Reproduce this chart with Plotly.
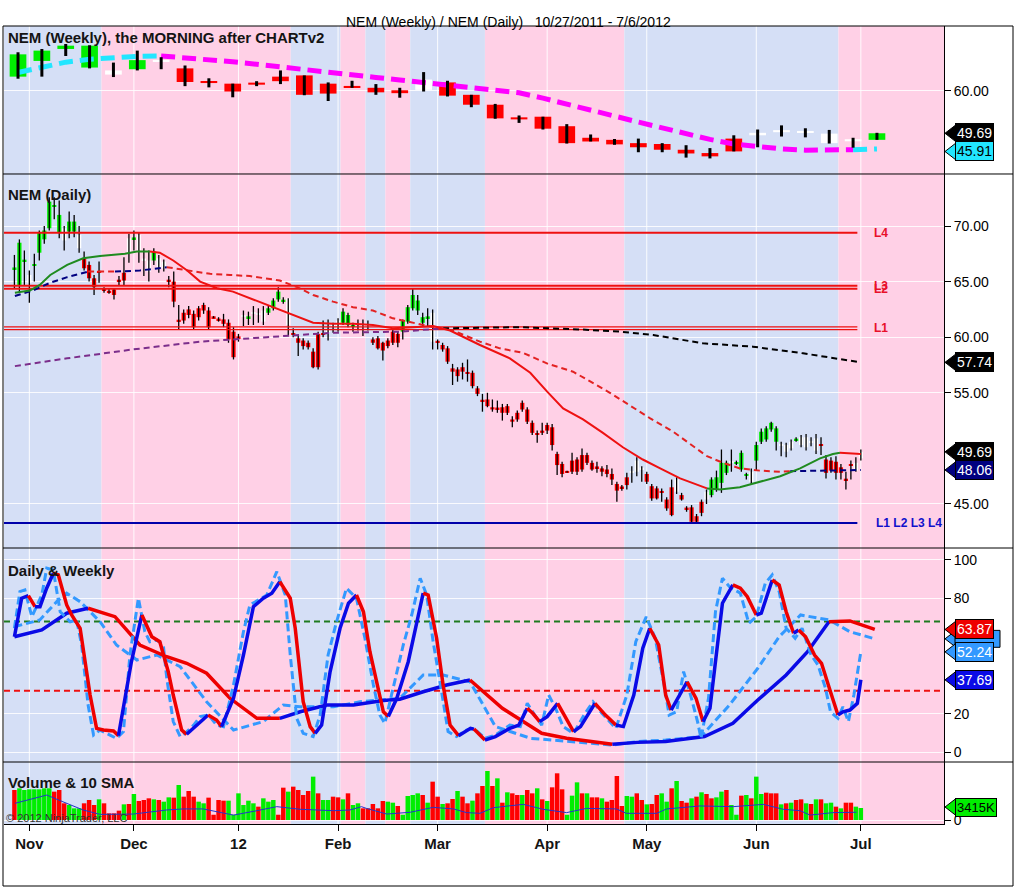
import plotly.graph_objects as go
import pandas as pd

FONT = 'Liberation Sans, Arial, sans-serif'

# ---- trading calendar (daily bars) ---------------------------------------
holidays = ['2011-11-24', '2011-12-26', '2012-01-02', '2012-01-16',
            '2012-02-20', '2012-04-06', '2012-05-28']
days = [d for d in pd.bdate_range('2011-10-27', '2012-07-02').strftime('%Y-%m-%d')
        if d not in holidays]
bar_of = {d: i for i, d in enumerate(days)}
bars = list(range(len(days)))

month_names = {'11': 'Nov', '12': 'Dec', '01': '12', '02': 'Feb', '03': 'Mar',
               '04': 'Apr', '05': 'May', '06': 'Jun', '07': 'Jul'}

# ---- daily OHLC -----------------------------------------------------------
d_open = [66.2, 64.7, 66.9,
          65.6, 66.5, 67.6, 68.8, 69.8, 71.8, 69.4, 69.8, 69.5, 69.5, 69.2, 67.1, 66.5, 65.3, 65.9, 64.3, 64.1, 64.3, 65.1, 65.8, 68.9,
          68.9, 69.2, 67.0, 66.9, 66.9, 67.1, 66.8, 65.1, 65.0, 61.5, 62.2, 62.5, 62.1, 62.6, 62.9, 62.4, 61.8, 61.6, 61.6, 61.3, 60.5,
          60.0, 61.9, 61.8, 62.2, 62.1, 62.4, 62.2, 62.6, 63.4, 63.3, 63.5, 60.3, 59.9, 59.7, 59.5, 58.7, 60.3, 60.3, 60.6, 61.0,
          61.5, 61.3, 61.1, 61.0, 61.2, 61.0, 61.1, 59.8, 59.9, 59.5, 59.7, 60.5, 60.3, 60.5, 61.4, 62.6, 62.4, 61.3, 61.8, 62.2,
          59.6, 59.3, 59.0, 57.2, 57.1, 57.3, 56.8, 56.8, 55.4, 54.3, 54.4, 53.7, 53.6, 53.7, 53.8, 52.6, 53.2, 54.1, 53.5, 52.3, 51.3, 51.6,
          52.1, 51.9, 49.5, 48.6, 47.9, 48.9, 49.0, 49.4, 49.4, 48.7, 48.3, 48.2, 48.1, 47.7, 46.8, 46.5, 47.4, 47.9, 48.9, 48.2,
          47.7, 46.6, 46.4, 46.1, 45.4, 46.5, 47.2, 45.8, 44.6, 44.7, 43.9, 45.2, 46.1, 45.8, 46.3, 46.9, 47.8, 48.8, 48.7, 48.1, 47.6, 47.9,
          48.9, 50.6, 50.8, 51.7, 50.6, 50.3, 50.3, 50.6, 50.8, 51.0, 51.0, 50.6, 50.9, 50.3, 49.0, 48.9, 48.8, 48.3, 47.2, 48.5, 48.7,
          49.1]
d_high = [67.4, 68.8, 67.8,
          66.0, 67.5, 69.6, 70.0, 72.6, 72.6, 72.3, 70.0, 71.3, 71.0, 70.0, 67.7, 66.8, 65.6, 66.8, 64.5, 64.4, 64.4, 65.5, 67.2, 69.3,
          69.6, 69.4, 68.0, 67.8, 68.0, 67.4, 67.0, 65.5, 65.9, 62.9, 62.5, 62.8, 62.4, 62.8, 63.1, 62.7, 61.9, 61.8, 62.1, 61.6, 60.9,
          60.3, 62.4, 62.3, 62.8, 62.6, 62.8, 62.9, 63.5, 64.5, 63.6, 63.5, 60.8, 60.1, 59.9, 59.7, 59.0, 60.5, 61.5, 61.6, 61.3,
          61.7, 62.6, 62.2, 61.3, 61.6, 61.6, 61.5, 60.0, 60.1, 59.6, 59.9, 60.7, 60.5, 61.6, 62.9, 64.4, 63.8, 62.2, 62.6, 62.5,
          59.8, 59.5, 59.2, 57.6, 57.3, 57.7, 58.0, 57.0, 55.6, 54.9, 55.0, 54.4, 54.3, 54.0, 54.0, 52.9, 53.4, 54.3, 53.7, 52.5, 51.6, 52.3,
          52.3, 52.2, 49.7, 48.8, 48.0, 49.6, 49.2, 50.0, 49.6, 48.9, 48.8, 48.4, 48.5, 48.2, 47.0, 46.7, 47.8, 48.4, 49.2, 48.4,
          47.9, 46.8, 46.6, 46.4, 45.6, 47.2, 47.4, 46.0, 44.8, 44.9, 44.1, 45.4, 46.3, 47.4, 48.0, 49.9, 48.9, 49.9, 48.9, 49.8, 47.8, 48.2,
          50.6, 51.8, 52.0, 52.4, 52.0, 50.6, 50.5, 50.8, 51.0, 51.2, 51.3, 51.0, 51.3, 51.0, 49.4, 49.2, 49.3, 48.6, 47.9, 48.9, 49.2,
          49.9]
d_low = [64.4, 64.0, 64.7,
         63.1, 65.0, 66.9, 68.4, 69.6, 70.6, 68.9, 67.8, 68.9, 69.0, 67.6, 66.0, 65.0, 63.8, 64.9, 64.0, 63.9, 63.4, 64.7, 64.6, 66.7,
         67.8, 66.7, 65.5, 65.0, 66.5, 65.8, 65.9, 64.5, 62.7, 60.7, 61.2, 61.7, 60.7, 61.5, 62.1, 60.7, 61.7, 61.4, 60.9, 59.5, 58.0,
         59.6, 61.0, 61.1, 61.1, 61.3, 61.1, 62.0, 62.4, 63.2, 63.0, 60.2, 60.0, 58.3, 58.9, 58.9, 57.2, 57.1, 60.0, 59.7, 60.4,
         60.5, 61.1, 60.9, 60.5, 60.6, 60.1, 60.6, 59.3, 58.9, 57.9, 59.0, 59.3, 59.1, 59.8, 61.2, 62.4, 62.0, 61.0, 61.0, 58.9,
         58.9, 58.7, 57.6, 55.7, 56.0, 56.2, 56.0, 55.4, 54.7, 53.3, 53.7, 53.3, 53.2, 52.5, 53.0, 51.9, 52.4, 53.3, 52.2, 51.2, 50.5, 51.2,
         51.3, 49.8, 47.6, 47.4, 47.8, 47.7, 47.6, 47.9, 48.5, 48.0, 47.8, 47.5, 47.4, 46.7, 45.2, 46.2, 46.3, 46.9, 47.5, 47.0,
         46.8, 45.3, 45.4, 45.2, 44.4, 43.9, 45.9, 45.3, 44.3, 43.3, 43.3, 43.9, 45.0, 45.6, 46.1, 46.0, 47.6, 47.9, 48.5, 47.9, 47.2, 46.8,
         48.0, 50.4, 50.6, 51.5, 49.8, 49.3, 49.2, 49.8, 50.6, 50.1, 49.8, 50.2, 49.5, 49.4, 47.3, 47.8, 47.2, 47.2, 46.3, 47.2, 47.9,
         48.9]
d_close = [66.2, 68.5, 66.9,
           64.9, 66.5, 69.4, 69.6, 72.2, 71.8, 71.0, 68.7, 70.4, 70.4, 68.0, 66.2, 65.3, 64.5, 65.9, 64.3, 64.1, 63.8, 65.1, 65.1, 67.6,
           68.9, 67.8, 67.0, 65.9, 67.7, 66.3, 66.2, 65.1, 63.2, 61.5, 61.5, 62.0, 60.9, 61.8, 62.4, 60.9, 61.8, 61.6, 61.2, 59.8, 58.2,
           60.0, 61.9, 61.8, 62.2, 62.1, 61.4, 62.6, 63.3, 64.1, 63.3, 61.1, 60.3, 59.5, 59.2, 59.1, 57.3, 57.3, 60.3, 60.6, 61.0,
           60.8, 62.3, 62.0, 61.0, 61.2, 61.0, 61.1, 59.5, 59.0, 58.8, 59.2, 59.5, 59.5, 61.5, 62.7, 63.8, 63.3, 61.8, 61.8, 59.6,
           59.6, 58.9, 57.8, 56.9, 56.5, 56.9, 56.8, 55.6, 54.9, 54.3, 53.8, 53.5, 53.6, 53.2, 53.2, 52.4, 52.6, 53.5, 52.4, 51.4, 51.3, 51.4,
           51.6, 50.3, 48.5, 47.7, 47.9, 47.9, 47.9, 48.1, 48.7, 48.1, 48.3, 47.9, 47.7, 47.2, 46.2, 46.5, 46.7, 47.9, 47.9, 48.2,
           47.0, 45.5, 45.5, 46.1, 44.6, 44.0, 46.1, 45.4, 44.6, 43.4, 43.4, 44.2, 45.4, 47.2, 47.4, 48.7, 48.7, 48.8, 48.7, 49.6, 47.6, 47.0,
           50.3, 51.5, 51.8, 52.3, 51.8, 50.3, 49.7, 50.0, 50.8, 50.3, 50.1, 50.6, 49.8, 50.3, 47.8, 48.0, 47.8, 47.8, 47.2, 48.5, 48.0,
           49.69]
d_col = ('ggg' + 'wggggggwggwrrrrrrrrrw' + 'gwwwgww' + 'r' * 14 + 'rwgwwwggggwrrrrrrrww'
         + 'wgggwwwrrrrrrggggggw' + 'r' * 22 + 'r' * 17 + 'www' + 'rrrrrrwrrrrrwggggwgggw'
         + 'gggggwwwgwwwwrrrrrrrw' + 'w')

# ---- weekly OHLC -----------------------------------------------------------
weeks = ['2011-10-28', '2011-11-04', '2011-11-11', '2011-11-18', '2011-11-25', '2011-12-02',
         '2011-12-09', '2011-12-16', '2011-12-23', '2011-12-30', '2012-01-06', '2012-01-13',
         '2012-01-20', '2012-01-27', '2012-02-03', '2012-02-10', '2012-02-17', '2012-02-24',
         '2012-03-02', '2012-03-09', '2012-03-16', '2012-03-23', '2012-03-30', '2012-04-05',
         '2012-04-13', '2012-04-20', '2012-04-27', '2012-05-04', '2012-05-11', '2012-05-18',
         '2012-05-25', '2012-06-01', '2012-06-08', '2012-06-15', '2012-06-22', '2012-06-29',
         '2012-07-06']
w_open = [63.4, 67.2, 70.1, 65.6, 64.9, 65.2, 67.2, 65.4, 62.1, 61.7, 61.7, 63.4, 63.7, 61.7, 60.9, 60.7,
          60.1, 62.7, 62.0, 59.0, 56.6, 53.3, 53.7, 51.4, 48.6, 48.1, 47.3, 47.1, 45.7, 44.9, 48.4, 49.8,
          50.2, 50.0, 49.6, 48.0, 48.1]
w_high = [69.3, 70.1, 71.3, 71.0, 66.8, 69.7, 68.1, 66.1, 63.0, 61.7, 62.3, 64.9, 63.7, 62.0, 62.4, 61.6,
          60.7, 64.5, 62.4, 59.0, 56.8, 54.0, 53.7, 51.9, 49.4, 48.3, 48.4, 47.3, 46.8, 46.1, 49.2, 50.6,
          51.6, 50.9, 50.5, 48.6, 49.8]
w_low = [62.9, 63.4, 68.4, 65.4, 63.3, 64.9, 65.2, 61.1, 60.8, 58.4, 61.1, 61.6, 58.9, 57.5, 60.7, 59.0,
         58.3, 59.8, 58.6, 56.0, 53.2, 52.2, 50.6, 47.2, 47.7, 46.9, 45.1, 45.1, 43.8, 43.6, 45.3, 46.3,
         48.9, 48.7, 47.2, 46.2, 48.1]
w_close = [68.8, 69.7, 70.9, 70.9, 63.9, 67.4, 67.2, 62.1, 62.1, 59.8, 61.7, 62.3, 59.0, 59.3, 60.9, 59.6,
           59.4, 60.2, 58.8, 56.6, 53.3, 53.3, 50.8, 47.3, 47.7, 47.0, 46.3, 45.7, 44.8, 44.1, 45.3, 49.2,
           50.2, 50.0, 47.3, 48.0, 49.69]
w_col = 'ggggwgw' + 'r' * 10 + 'w' + 'r' * 13 + 'wwwww' + 'g'
w_ma = [64.4, 65.7, 66.9, 67.6, 68.0, 68.3, 68.4, 68.0, 67.5, 67.0, 66.4, 65.7, 65.1, 64.4, 63.8, 63.2,
        62.6, 62.0, 61.5, 61.0, 60.4, 59.5, 58.2, 56.7, 55.1, 53.8, 52.4, 51.0, 49.5, 48.2, 47.1, 46.4,
        45.9, 45.6, 45.6, 45.7, 45.91]
w_ma_col = 'c' * 6 + 'm' * 29 + 'cc'

# ---- daily moving averages (sampled at bar positions) ----------------------
fast_pos = [0.1, 3.1, 5.1, 7.2, 10.6, 13.8, 17.2, 22.2, 24.6, 27.2, 29.2, 31.9, 34.7, 37.3, 40.7, 43.9,
            47.9, 51.9, 55.9, 60.0, 64.0, 68.0, 72.0, 76.0, 80.1, 84.1, 87.5, 93.5, 99.5, 103.6, 107.0,
            110.2, 114.2, 118.2, 122.2, 126.2, 129.7, 133.7, 139.1, 141.7, 145.7, 149.7, 153.8, 157.8,
            161.8, 164.4, 165.8, 170.0]
fast_val = [64.0, 64.2, 64.7, 65.6, 66.5, 67.1, 67.3, 67.5, 67.7, 67.7, 67.6, 66.9, 66.0, 65.0, 64.4, 64.1,
            63.4, 62.7, 62.0, 61.3, 61.2, 61.2, 61.1, 60.8, 60.9, 61.0, 60.6, 59.3, 58.1, 56.8, 55.1,
            53.6, 52.6, 51.4, 50.1, 49.0, 48.2, 47.3, 46.4, 46.3, 46.5, 47.0, 47.5, 48.2,
            49.1, 49.5, 49.6, 49.5]
fast_col = 'g' * 9 + 'r' * 29 + 'g' * 8 + 'rr'

slow_pos = [0.1, 3.7, 7.2, 10.6, 14.8, 20.2, 25.2, 30.6, 35.3, 39.3, 43.3, 47.3, 53.3, 56.8, 60.0, 64.0,
            68.0, 72.0, 76.0, 80.1, 84.1, 88.1, 93.5, 97.5, 102.1, 107.2, 112.2, 119.6, 127.7, 132.3,
            139.1, 142.3, 145.7, 149.7, 153.8, 155.8, 161.8, 170.0]
slow_val = [63.7, 64.2, 64.9, 65.4, 65.9, 65.9, 66.0, 66.3, 66.0, 65.7, 65.6, 65.5, 65.1, 64.5, 63.8, 63.2,
            62.7, 62.4, 61.7, 61.3, 60.9, 60.6, 59.6, 59.0, 58.6, 57.6, 56.9, 55.0, 52.7, 51.5,
            49.3, 48.7, 48.2, 48.0, 47.9, 47.95, 48.0, 48.06]
slow_col = 'nnnn' + 'r' + 'nn' + 'r' * 28 + 'nnn'

long_pos = [0.1, 10.6, 23.8, 37.3, 50.7, 64.0, 77.4, 86.1, 101.5, 113.6, 121.6, 128.3, 138.3, 148.3,
            158.4, 170.0]
long_val = [57.4, 58.1, 58.9, 59.6, 60.0, 60.4, 60.5, 60.8, 60.9, 60.7, 60.5, 60.2, 59.45, 59.15,
            58.55, 57.74]
long_col = 'p' * 7 + 'k' * 9

levels_thick = [69.4, 64.62, 64.35]
levels_thin = [60.93, 60.68]
level_blue = 43.3

# ---- oscillator ("Daily & Weekly") ------------------------------------------
osc_d_pos = [0, 1.46, 2.8, 4.14, 5.14, 6.48, 7.82, 8.82, 10.5, 11.5,
             13.2, 15.2, 16.5, 17.9, 19.9, 20.9, 23.5, 25.6, 27.6, 29.2,
             30.9, 31.9, 33.6, 34.6, 37.3, 38.9, 40.6, 41.6, 44.0, 46.0,
             48.0, 50.0, 51.7, 53.3, 55.4, 56.4, 58.0, 59.4, 60.4, 61.7,
             63.4, 65.4, 67.1, 68.7, 70.1, 71.4, 72.8, 74.1, 75.1, 76.8,
             79.1, 80.8, 82.1, 83.1, 84.8, 86.1, 87.5, 89.2, 91.6, 92.3,
             94.5, 96.6, 99.5, 101.3, 103.0, 104.1, 105.5, 107.0, 109.1, 110.9,
             112.3, 113.7, 116.6, 118.7, 120.8, 122.3, 124.4, 126.2, 127.6, 129.4,
             130.8, 131.9, 133.3, 135.1, 136.9, 138.3, 139.7, 140.8, 142.2, 144.3,
             145.8, 147.2, 149.0, 150.0, 152.2, 153.6, 155.0, 156.5, 157.5, 158.9,
             160.7, 162.1, 163.9, 165.4, 166.4, 167.8, 169.3, 170.0]
osc_d_val = [60.1, 80.1, 81.5, 75.7, 75.7, 85.3, 93.1, 92.2, 76.6, 71.4,
             64.5, 29.8, 12.5, 11.6, 11.1, 8.7, 47.1, 71.4, 60.1, 57.5,
             41.9, 29.8, 11.6, 9.4, 16.0, 19.4, 16.8, 13.4, 28.1, 50.6,
             75.7, 80.1, 82.7, 88.7, 80.1, 64.5, 26.3, 13.4, 9.9, 14.2,
             41.9, 64.5, 77.5, 81.8, 73.1, 52.3, 35.0, 21.1, 18.6, 28.1,
             47.1, 66.2, 82.7, 81.8, 59.3, 35.0, 14.2, 8.7, 12.5, 12.1,
             6.4, 8.2, 12.5, 14.2, 22.9, 20.3, 16.0, 18.6, 25.5, 17.7,
             10.8, 13.4, 25.5, 19.4, 14.2, 13.4, 29.8, 54.1, 64.5, 55.8,
             29.8, 22.0, 28.1, 36.7, 28.1, 16.0, 22.9, 47.1, 77.5, 87.0,
             85.3, 80.9, 71.4, 72.3, 89.6, 87.0, 73.1, 61.9, 63.6, 60.1,
             50.6, 46.3, 31.5, 19.4, 21.1, 22.0, 25.5, 37.69]
osc_d_col = ('bbrbbbrrrr' 'rrrrrbbrrr' 'rrrbbrrbbb' 'bbbrrrrrbb' 'bbbrrrrrbb'
             'bbrrrrrbbr' 'bbbbrrbbrr' 'bbrrbbbbrr' 'rbbrrbbbbr' 'rrbbrrrbrr' 'rrrbbbbb')
osc_dd_pos = [0, 1.1, 2.1, 3.5, 5.5, 6.5, 7.8, 9.2, 11.2, 12.5,
              13.5, 14.8, 15.9, 17.2, 19.2, 20.5, 21.9, 23.2, 24.9, 26.2,
              27.2, 28.6, 29.9, 30.6, 31.9, 33.3, 34.3, 36.0, 37.3, 39.0,
              40.6, 42.0, 44.0, 46.0, 47.3, 49.0, 50.7, 52.7, 54.4, 55.4,
              56.7, 58.0, 60.0, 61.4, 63.0, 64.7, 66.7, 68.7, 70.4, 72.1,
              73.4, 74.4, 76.1, 78.1, 79.8, 81.5, 82.8, 84.1, 85.8, 87.1,
              88.8, 90.8, 92.3, 94.5, 96.6, 99.5, 101.6, 103.0, 104.5, 105.9,
              107.3, 108.7, 110.2, 112.3, 114.4, 116.2, 118.0, 120.8, 123.0, 124.8,
              126.9, 128.7, 130.5, 131.5, 133.0, 134.4, 135.8, 137.2, 137.9, 139.4,
              140.8, 142.2, 143.6, 145.8, 147.5, 149.0, 150.8, 152.2, 153.6, 155.0,
              156.8, 158.2, 160.0, 161.4, 162.9, 163.9, 165.4, 166.4, 167.5, 168.6,
              170.0]
osc_dd_val = [64.5, 83.5, 84.4, 70.5, 81.8, 95.7, 94.8, 73.1, 67.9, 68.8,
              55.8, 24.6, 9.0, 11.6, 9.0, 7.3, 10.8, 50.6, 80.1, 62.7,
              57.5, 58.4, 55.8, 38.5, 16.0, 8.2, 9.9, 14.2, 18.6, 19.4,
              14.2, 13.4, 35.0, 62.7, 76.6, 79.2, 81.8, 93.9, 81.8, 50.6,
              17.7, 9.9, 8.2, 19.4, 50.6, 67.9, 85.3, 80.1, 59.3, 35.0,
              19.4, 15.1, 33.3, 55.8, 71.4, 90.5, 81.8, 57.5, 31.5, 10.8,
              8.2, 11.6, 12.5, 7.3, 9.0, 14.2, 13.4, 25.5, 19.4, 14.2,
              29.8, 22.9, 13.4, 9.9, 19.4, 26.3, 20.3, 12.5, 29.8, 57.5,
              70.5, 59.3, 35.0, 19.4, 21.1, 42.0, 29.8, 16.0, 7.3, 28.1,
              73.1, 90.5, 86.1, 82.7, 67.1, 70.5, 87.9, 92.2, 83.5, 64.5,
              59.3, 64.5, 50.6, 45.4, 33.3, 21.1, 17.7, 23.7, 16.0, 29.8,
              52.24]
osc_w_pos = [0, 5.5, 10.5, 14.8, 20.2, 25.2, 30.6, 34.6, 38.6, 43.3, 48.7, 53.3, 57.4, 62.7, 68.1, 74.1,
             77.4, 82.1, 86.8, 91.5, 98.0, 105.9, 110.9, 120.1, 125.1, 130.8, 138.6, 144.3, 149.3, 155.0,
             159.3, 163.6, 167.8, 172.8]
osc_w_val = [60.1, 63.6, 72.3, 74.9, 70.5, 55.8, 49.7, 46.3, 41.1, 28.1, 17.7, 17.7, 21.1, 24.6, 24.6, 27.0,
             27.6, 31.5, 35.0, 37.6, 22.9, 9.9, 7.3, 4.2, 5.2, 5.6, 8.2, 15.1, 27.2, 40.2,
             52.3, 67.9, 68.3, 63.87]
osc_w_col = 'bbb' + 'r' * 8 + 'b' * 8 + 'r' * 4 + 'b' * 8 + 'rrr'
osc_wd_pos = [0, 5.1, 8.5, 10.5, 13.2, 17.2, 20.5, 24.6, 28.6, 33.3, 38.6, 44.0, 50.0, 54.0, 57.4, 64.1,
              69.4, 77.4, 82.1, 86.1, 91.5, 96.6, 103.7, 110.9, 120.1, 125.1, 130.8, 137.9, 143.6, 149.3,
              153.6, 157.9, 163.6, 167.8, 172.8]
osc_wd_val = [65.3, 68.8, 78.3, 82.7, 78.3, 67.9, 55.8, 48.0, 50.6, 44.5, 26.3, 11.6, 16.0, 24.6, 23.7, 23.7,
              26.3, 28.1, 40.2, 40.2, 36.7, 13.4, 7.3, 5.6, 3.8, 5.6, 6.4, 8.2, 24.6, 43.7,
              60.1, 71.4, 68.8, 62.7, 59.0]
osc_upper, osc_lower = 68, 32

# ---- volume (thousands) ----------------------------------------------------
vol_k = [8540, 9020, 8540, 8730, 8730, 8730, 9020, 9020, 8070, 8540,
         4750, 4270, 3320, 3320, 4750, 5690, 4270, 5880, 4750, 1900,
         1900, 2660, 4460, 4560, 7400, 5410, 5690, 6170, 5880, 5690,
         5220, 6450, 6360, 9960, 6640, 8260, 6640, 5220, 4750, 6360,
         1500, 5690, 5500, 5500, 1500, 7590, 4270, 5500, 4750, 3800, 6170, 5220, 5690,
         1500, 9200, 8070, 9490, 8540, 7120, 8260, 12340, 7590, 5690,
         5690, 6640, 6450, 5880, 7590, 4270, 4750, 3320, 3320, 4560,
         3320, 5410, 5220, 4930, 3990, 1500, 6830, 7120, 7590, 7120,
         4930, 10910, 6640, 4560, 4750, 5980, 8260, 6640, 4750, 5500,
         7590, 9680, 13950, 9680, 11860,
         4930,
         7880, 7590, 7120, 7120, 8540, 7590, 9020, 5880, 5410, 9300,
         13290, 8730, 1500, 6930, 10720, 7590, 7590, 6450, 6450, 6170,
         5220, 5690, 12530, 3990, 6830, 6640, 7590, 5690, 4460, 4560,
         7120, 7590, 5220, 9020, 11100, 5410, 4930, 6170, 6640, 7880,
         7400, 6170, 6450, 8070, 8540, 4270, 1500, 6930, 7120, 6170,
         12340, 7400, 7780, 7590, 7590, 4460, 4750, 4930, 5690, 5880,
         4750, 4560, 5880, 5880, 4750, 4930, 3800, 3320, 4930, 4930,
         3800, 3415]
vol_col = ('rgggggggrrrgggrrrgrrrrgrgrrrgrggrgrrrggr' + 'rrrggggggrggg'
           + 'rrgrrrrgrg' + 'grrgrggrrr' + 'rrggrggggr' + 'grrgrrgrrg' + 'rrgrg' + 'r'
           + 'grrgrrgrgr' + 'rrgggrgrrg' + 'rrrrggrrgr' + 'rggrgrrgrg' + 'rrggrggrgr'
           + 'ggrrrgrgrr' + 'grgrggrgrr' + 'gg')
vol_sma_pos = [0.1, 6.5, 9.2, 13.8, 17.2, 23.9, 30.6, 33.9, 37.9, 44.0, 48.7, 52.7, 57.4, 64.1, 67.4,
               69.7, 70.7, 74.8, 79.5, 84.1, 88.2, 90.8, 93.5, 96.2, 99.2, 102.2, 106.2, 110.9, 114.9,
               120.9, 122.9, 129.0, 131.0, 137.7, 144.4, 150.4, 154.4, 157.8, 159.8, 164.4, 169.1]
vol_sma_k = [4750, 7100, 5500, 2850, 1600, 1700, 2850, 3150, 3150, 1400, 2650, 3800, 3050, 2650, 2850,
             3800, 3300, 1700, 2200, 3600, 3150, 2100, 1900, 3500, 4000, 4450, 3050, 2100, 3300,
             3150, 1900, 1900, 3150, 4000, 3800, 4450, 3050, 2650, 1400, 2100, 2200]

# ---- background regime bands -----------------------------------------------
band_start = ['2011-10-27', '2011-11-22', '2012-01-19', '2012-02-02', '2012-02-09',
              '2012-02-15', '2012-02-23', '2012-03-15', '2012-04-25', '2012-06-26']
band_kind = ['blue', 'pink', 'blue', 'pink', 'blue', 'pink', 'blue', 'pink', 'blue', 'pink']

# ---- styling ---------------------------------------------------------------
CANDLE = {'g': '#00ee00', 'r': '#ff0000', 'w': '#ffffff'}
BAND = {'blue': '#d5dff6', 'pink': '#ffd0e6'}
X_RANGE = [-2.09, 186.7]
W_RANGE = [-0.587, 38.81]
D1, D2, D3 = 0.81454, 0.34586, 0.07769


def px_x(p):
    return (p - 4) / 940


def px_y(q):
    return (824 - q) / 798


fig = go.Figure()


def add_candles(x, o, h, l, c, col, xa, ya, body_w, wick_w, min_body):
    wx, wy = [], []
    for xi, hi, lo in zip(x, h, l):
        wx += [xi, xi, None]
        wy += [lo, hi, None]
    fig.add_trace(go.Scatter(x=wx, y=wy, mode='lines', xaxis=xa, yaxis=ya,
                             line=dict(color='black', width=wick_w), hoverinfo='skip'))
    size, base = [], []
    for a, b in zip(o, c):
        if abs(a - b) < min_body:
            size.append(min_body)
            base.append((a + b) / 2 - min_body / 2)
        else:
            size.append(abs(a - b))
            base.append(min(a, b))
    fig.add_trace(go.Bar(x=x, y=size, base=base, width=body_w, xaxis=xa, yaxis=ya,
                         marker=dict(color=[CANDLE[k] for k in col], line=dict(width=0))))


def add_segments(x, y, codes, palette, xa, ya, width, dash=None):
    start = 0
    for k in range(1, len(x)):
        if k == len(x) - 1 or codes[k] != codes[start]:
            fig.add_trace(go.Scatter(x=x[start:k + 1], y=y[start:k + 1], mode='lines',
                                     xaxis=xa, yaxis=ya,
                                     line=dict(color=palette[codes[start]], width=width, dash=dash)))
            start = k


# panel 1: weekly
add_segments(weeks, w_ma, w_ma_col, {'c': '#22e6ff', 'm': '#ff00ff'}, 'x', 'y', 5, '14px,7px')
add_candles(weeks, w_open, w_high, w_low, w_close, w_col, 'x', 'y', 0.7, 3, 0.5)

# panel 2: daily
add_candles(bars, d_open, d_high, d_low, d_close, d_col, 'x2', 'y2', 0.85, 1.3, 0.15)
line_end = bars[-1] - 0.7
for lv in levels_thick:
    fig.add_trace(go.Scatter(x=[X_RANGE[0], line_end], y=[lv, lv], mode='lines', xaxis='x2', yaxis='y2',
                             line=dict(color='#ee1111', width=2)))
for lv in levels_thin:
    fig.add_trace(go.Scatter(x=[X_RANGE[0], line_end], y=[lv, lv], mode='lines', xaxis='x2', yaxis='y2',
                             line=dict(color='#ee1111', width=1.2)))
fig.add_trace(go.Scatter(x=[X_RANGE[0], line_end], y=[level_blue, level_blue], mode='lines',
                         xaxis='x2', yaxis='y2', line=dict(color='#0000aa', width=2)))
add_segments(long_pos, long_val, long_col, {'p': '#7b2d8b', 'k': '#000000'}, 'x2', 'y2', 2, '6px,4px')
add_segments(slow_pos, slow_val, slow_col, {'n': '#000080', 'r': '#e32222'}, 'x2', 'y2', 2, '6px,4px')
add_segments(fast_pos, fast_val, fast_col, {'g': '#1f8b1f', 'r': '#ee1111'}, 'x2', 'y2', 2)

# panel 3: oscillator
for lv, lc in [(osc_upper, '#1f7a1f'), (osc_lower, '#ee1111')]:
    fig.add_trace(go.Scatter(x=X_RANGE, y=[lv, lv], mode='lines', xaxis='x3', yaxis='y3',
                             line=dict(color=lc, width=2, dash='6px,4px')))
fig.add_trace(go.Scatter(x=osc_wd_pos, y=osc_wd_val, mode='lines', xaxis='x3', yaxis='y3',
                         line=dict(color='#3399ff', width=3, dash='8px,4px')))
add_segments(osc_w_pos, osc_w_val, osc_w_col, {'b': '#0a0ae6', 'r': '#ee0000'}, 'x3', 'y3', 3.5)
fig.add_trace(go.Scatter(x=osc_dd_pos, y=osc_dd_val, mode='lines', xaxis='x3', yaxis='y3',
                         line=dict(color='#3399ff', width=3, dash='8px,4px')))
add_segments(osc_d_pos, osc_d_val, osc_d_col, {'b': '#0a0ae6', 'r': '#ee0000'}, 'x3', 'y3', 3.5)

# panel 4: volume
fig.add_trace(go.Bar(x=bars, y=vol_k, width=0.9, xaxis='x4', yaxis='y4',
                     marker=dict(color=[CANDLE[k] for k in vol_col], line=dict(width=0))))
fig.add_trace(go.Scatter(x=vol_sma_pos, y=vol_sma_k, mode='lines', xaxis='x4', yaxis='y4',
                         line=dict(color='#2233cc', width=1)))

# ---- shapes: bands, month grid, frame ---------------------------------------
shapes = []
edges = [bar_of[d] - 0.5 for d in band_start]
edges[0] = X_RANGE[0]
edges.append(X_RANGE[1])
for k, kind in enumerate(band_kind):
    shapes.append(dict(type='rect', xref='x2', yref='paper', x0=edges[k], x1=edges[k + 1], y0=0, y1=1,
                       fillcolor=BAND[kind], line=dict(width=0), layer='below'))

month_first, seen = [], set()
for d in days:
    if d[:7] not in seen:
        seen.add(d[:7])
        month_first.append(d)
month_first = month_first[1:]
tick_pos = [bar_of[d] for d in month_first]
tick_txt = ['<b>%s</b>' % month_names[d[5:7]] for d in month_first]
for t in tick_pos:
    shapes.append(dict(type='line', xref='x2', yref='paper', x0=t, x1=t, y0=0, y1=1,
                       line=dict(color='rgba(255,255,255,0.9)', width=1), layer='below'))

shapes.append(dict(type='rect', xref='paper', yref='paper', x0=px_x(3), x1=px_x(1013),
                   y0=px_y(886), y1=1, line=dict(color='black', width=1)))
for yy in (D1, D2, D3):
    shapes.append(dict(type='line', xref='paper', yref='paper', x0=px_x(3), x1=px_x(1013),
                       y0=yy, y1=yy, line=dict(color='black', width=1)))
fig.update_layout(shapes=shapes)

# ---- texts -------------------------------------------------------------------
fig.add_annotation(x=px_x(508), y=px_y(12), xref='paper', yref='paper', showarrow=False,
                   text='NEM (Weekly) / NEM (Daily)\u00a0\u00a0\u00a010/27/2011 - 7/6/2012',
                   font=dict(size=14, color='black'))
for txt, yy in [('NEM (Weekly), the MORNING after CHARTv2', 37), ('NEM (Daily)', 194),
                ('Daily &amp; Weekly', 570), ('Volume &amp; 10 SMA', 782)]:
    fig.add_annotation(x=px_x(6), y=px_y(yy), xref='paper', yref='paper', showarrow=False,
                       xanchor='left', yanchor='middle', text='<b>%s</b>' % txt,
                       font=dict(size=15, color='#141414'))
fig.add_annotation(x=px_x(4), y=px_y(818), xref='paper', yref='paper', showarrow=False,
                   xanchor='left', yanchor='middle', text='\u00a9 2012 NinjaTrader, LLC',
                   font=dict(size=11, color='#333333'))

for txt, lv in [('L4', 69.4), ('L3', 64.62), ('L2', 64.35), ('L1', 60.85)]:
    fig.add_annotation(x=174.0, y=lv, xref='x2', yref='y2', showarrow=False, text='<b>%s</b>' % txt,
                       font=dict(size=12, color='#e8102a'))
fig.add_annotation(x=172.6, y=level_blue, xref='x2', yref='y2', showarrow=False, xanchor='left',
                   text='<b>L1 L2 L3 L4</b>', font=dict(size=12, color='#1010cc'))


def tip(value, ya, dv, bg):
    fig.add_shape(type='path', xref='paper', yref=ya,
                  path='M %f,%f L %f,%f L %f,%f Z' % (px_x(945), value, px_x(956), value + dv,
                                                      px_x(956), value - dv),
                  fillcolor=bg, line=dict(color='black', width=1), layer='above')


def price_tag(text, value, ya, dv, bg, fg, size=14):
    tip(value, ya, dv, bg)
    fig.add_annotation(x=px_x(955), y=value, xref='paper', yref=ya, showarrow=False,
                       xanchor='left', yanchor='middle', text=text, bgcolor=bg,
                       bordercolor='black', borderwidth=1, borderpad=1,
                       font=dict(size=size, color=fg))


price_tag('49.69', 49.69, 'y', 2.06, '#000000', '#ffffff')
price_tag('45.91', 45.28, 'y', 2.06, '#22e6ff', '#000000')
price_tag('57.74', 57.74, 'y2', 0.76, '#000000', '#ffffff')
price_tag('49.69', 49.69, 'y2', 0.76, '#000000', '#ffffff')
price_tag('48.06', 48.06, 'y2', 0.76, '#000080', '#ffffff')
# weekly dashed value tag, hidden behind its neighbours in the original
tip(59.0, 'y3', 4.4, '#3399ff')
fig.add_shape(type='rect', xref='paper', yref='y3', x0=px_x(955), x1=px_x(1000), y0=59.0 - 4.4,
              y1=59.0 + 4.4, fillcolor='#3399ff', line=dict(color='black', width=1), layer='above')
price_tag('63.87', 63.87, 'y3', 4.4, '#ee0000', '#ffffff')
price_tag('52.24', 52.24, 'y3', 4.4, '#3399ff', '#ffffff')
price_tag('37.69', 37.69, 'y3', 4.4, '#0a0ae6', '#ffffff')
price_tag('3415K', 3700, 'y4', 2419, '#00ee00', '#000000', size=13)

# ---- axes --------------------------------------------------------------------
yax = dict(side='right', ticks='outside', ticklen=6, tickcolor='black', showline=True,
           linecolor='black', linewidth=1, showgrid=True, gridcolor='rgba(255,255,255,0.85)',
           zeroline=False, tickfont=dict(size=14, color='black'))
fig.update_layout(
    width=1016, height=888, margin=dict(l=4, r=72, t=26, b=64),
    paper_bgcolor='white', plot_bgcolor='rgba(0,0,0,0)', showlegend=False,
    barmode='overlay', hovermode=False, font=dict(family=FONT),
    xaxis=dict(domain=[0, 1], anchor='y', type='category', range=W_RANGE,
               showticklabels=False, showgrid=False, zeroline=False),
    xaxis2=dict(domain=[0, 1], anchor='y2', range=X_RANGE, showticklabels=False,
                showgrid=False, zeroline=False),
    xaxis3=dict(domain=[0, 1], anchor='y3', matches='x2', showticklabels=False,
                showgrid=False, zeroline=False),
    xaxis4=dict(domain=[0, 1], anchor='y4', matches='x2', tickvals=tick_pos, ticktext=tick_txt,
                ticks='outside', ticklen=6, tickcolor='black', showline=True, linecolor='black',
                showgrid=False, zeroline=False, tickfont=dict(size=15, color='#141414')),
    yaxis=dict(domain=[D1, 1], anchor='x', range=[39.83, 75.66], tickvals=[60],
               tickformat='.2f', **yax),
    yaxis2=dict(domain=[D2, D1], anchor='x2', range=[41.04, 74.68],
                tickvals=[45, 55, 60, 65, 70], tickformat='.2f', **yax),
    yaxis3=dict(domain=[D3, D2], anchor='x3', range=[-5.0, 106.2],
                tickvals=[0, 20, 80, 100], **yax),
    yaxis4=dict(domain=[0, D3], anchor='x4', range=[-1138, 16507], tickvals=[0],
                ticktext=['0'], **yax),
)

fig.write_html('out.html', config={'displayModeBar': False},
               post_script="document.body.style.margin='0px';")
